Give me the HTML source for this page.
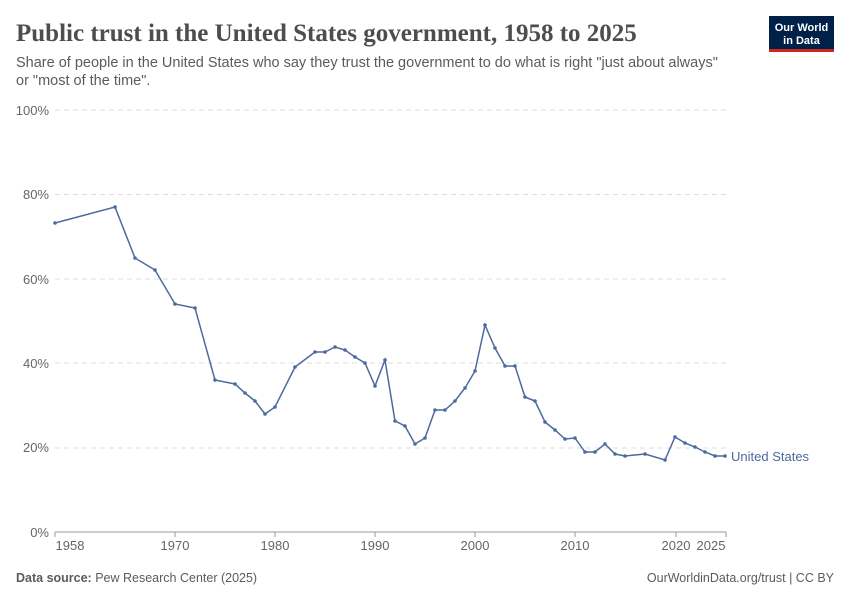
<!DOCTYPE html>
<html><head><meta charset="utf-8"><style>
body{margin:0;background:#fff;width:850px;height:600px;overflow:hidden;font-family:"Liberation Sans",sans-serif;}
</style></head><body>
<svg width="850" height="600" xmlns="http://www.w3.org/2000/svg" font-family="Liberation Sans, sans-serif">
<text x="16" y="41" font-family="Liberation Serif, serif" font-size="25" fill="#4d4d4d" font-weight="bold">Public trust in the United States government, 1958 to 2025</text>
<text x="16" y="67" font-size="14.5" fill="#5b5b5b">Share of people in the United States who say they trust the government to do what is right "just about always"</text>
<text x="16" y="85" font-size="14.5" fill="#5b5b5b">or "most of the time".</text>
<rect x="769" y="16" width="65" height="36" fill="#002147"/>
<rect x="769" y="49" width="65" height="3" fill="#ce261e"/>
<text x="801.5" y="31" font-size="11" fill="#fff" text-anchor="middle" font-weight="bold">Our World</text>
<text x="801.5" y="44" font-size="11" fill="#fff" text-anchor="middle" font-weight="bold">in Data</text>
<g stroke="#ddd" stroke-dasharray="5,4" stroke-width="1">
<line x1="55" x2="726" y1="110" y2="110"/><line x1="55" x2="726" y1="194.5" y2="194.5"/><line x1="55" x2="726" y1="279" y2="279"/><line x1="55" x2="726" y1="363" y2="363"/><line x1="55" x2="726" y1="448" y2="448"/>
</g>
<line x1="55" x2="726" y1="532" y2="532" stroke="#999"/>
<g font-size="13" fill="#666" text-anchor="end">
<text x="49" y="115">100%</text><text x="49" y="199">80%</text><text x="49" y="284">60%</text><text x="49" y="368">40%</text><text x="49" y="452">20%</text><text x="49" y="537">0%</text>
</g>
<g font-size="13" fill="#666" text-anchor="middle">
<text x="70" y="550">1958</text><text x="175" y="550">1970</text><text x="275" y="550">1980</text><text x="375" y="550">1990</text><text x="475" y="550">2000</text><text x="575" y="550">2010</text><text x="676" y="550">2020</text><text x="711" y="550">2025</text>
</g>
<g stroke="#999"><line x1="55" x2="55" y1="532" y2="537"/><line x1="175" x2="175" y1="532" y2="537"/><line x1="275" x2="275" y1="532" y2="537"/><line x1="375" x2="375" y1="532" y2="537"/><line x1="475" x2="475" y1="532" y2="537"/><line x1="575" x2="575" y1="532" y2="537"/><line x1="676" x2="676" y1="532" y2="537"/><line x1="726" x2="726" y1="532" y2="537"/></g>
<polyline fill="none" stroke="#4c6a9c" stroke-width="1.5" points="55,223 115,207 135,258 155,270 175,304 195,308 215,380 235,384 245,393 255,401 265,414 275,407 295,367 315,352 325,352 335,347 345,350 355,357 365,363 375,386 385,360 395,421 405,426 415,444 425,438 435,410 445,410 455,401 465,388 475,371 485,325 495,348 505,366 515,366 525,397 535,401 545,422 555,430 565,439 575,438 585,452 595,452 605,444 615,454 625,456 645,454 665,460 675,437 685,443 695,447 705,452 715,456 725,456"/>
<g fill="#4c6a9c">
<circle cx="55" cy="223" r="1.8"/><circle cx="115" cy="207" r="1.8"/><circle cx="135" cy="258" r="1.8"/><circle cx="155" cy="270" r="1.8"/><circle cx="175" cy="304" r="1.8"/><circle cx="195" cy="308" r="1.8"/><circle cx="215" cy="380" r="1.8"/><circle cx="235" cy="384" r="1.8"/><circle cx="245" cy="393" r="1.8"/><circle cx="255" cy="401" r="1.8"/><circle cx="265" cy="414" r="1.8"/><circle cx="275" cy="407" r="1.8"/><circle cx="295" cy="367" r="1.8"/><circle cx="315" cy="352" r="1.8"/><circle cx="325" cy="352" r="1.8"/><circle cx="335" cy="347" r="1.8"/><circle cx="345" cy="350" r="1.8"/><circle cx="355" cy="357" r="1.8"/><circle cx="365" cy="363" r="1.8"/><circle cx="375" cy="386" r="1.8"/><circle cx="385" cy="360" r="1.8"/><circle cx="395" cy="421" r="1.8"/><circle cx="405" cy="426" r="1.8"/><circle cx="415" cy="444" r="1.8"/><circle cx="425" cy="438" r="1.8"/><circle cx="435" cy="410" r="1.8"/><circle cx="445" cy="410" r="1.8"/><circle cx="455" cy="401" r="1.8"/><circle cx="465" cy="388" r="1.8"/><circle cx="475" cy="371" r="1.8"/><circle cx="485" cy="325" r="1.8"/><circle cx="495" cy="348" r="1.8"/><circle cx="505" cy="366" r="1.8"/><circle cx="515" cy="366" r="1.8"/><circle cx="525" cy="397" r="1.8"/><circle cx="535" cy="401" r="1.8"/><circle cx="545" cy="422" r="1.8"/><circle cx="555" cy="430" r="1.8"/><circle cx="565" cy="439" r="1.8"/><circle cx="575" cy="438" r="1.8"/><circle cx="585" cy="452" r="1.8"/><circle cx="595" cy="452" r="1.8"/><circle cx="605" cy="444" r="1.8"/><circle cx="615" cy="454" r="1.8"/><circle cx="625" cy="456" r="1.8"/><circle cx="645" cy="454" r="1.8"/><circle cx="665" cy="460" r="1.8"/><circle cx="675" cy="437" r="1.8"/><circle cx="685" cy="443" r="1.8"/><circle cx="695" cy="447" r="1.8"/><circle cx="705" cy="452" r="1.8"/><circle cx="715" cy="456" r="1.8"/><circle cx="725" cy="456" r="1.8"/>
</g>
<text x="731" y="461" font-size="13" fill="#4c6a9c">United States</text>
<text x="16" y="582" font-size="12.5" fill="#5b5b5b"><tspan font-weight="bold">Data source:</tspan> Pew Research Center (2025)</text>
<text x="834" y="582" font-size="12.5" fill="#5b5b5b" text-anchor="end">OurWorldinData.org/trust | CC BY</text>
</svg>
</body></html>
